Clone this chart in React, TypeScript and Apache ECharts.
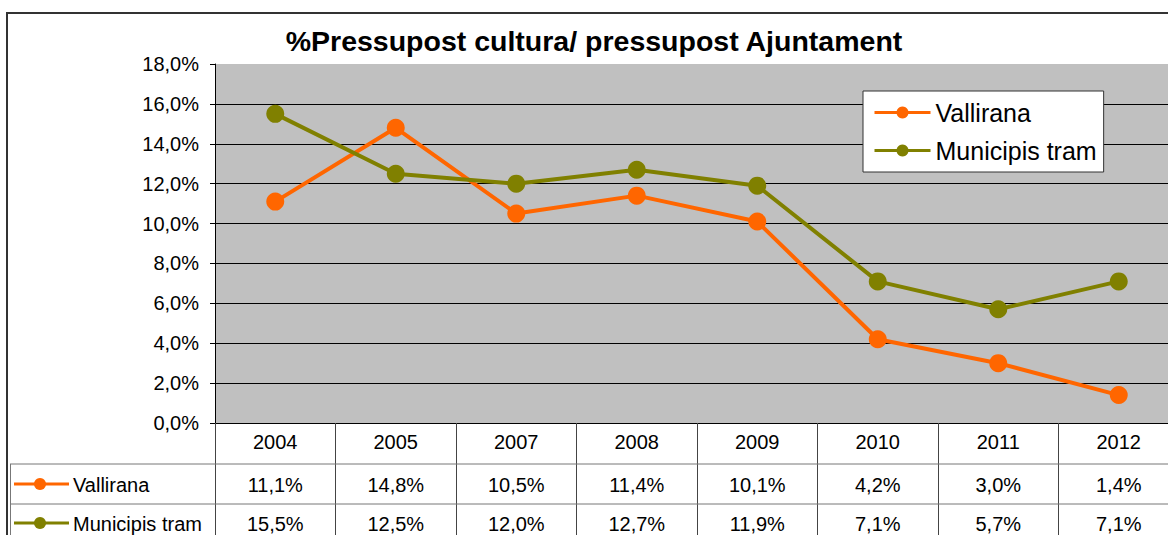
import React, { useEffect, useRef } from "react";
import * as echarts from "echarts";

const categories = ["2004", "2005", "2007", "2008", "2009", "2010", "2011", "2012"];
const seriesNames = ["Vallirana", "Municipis tram"];
const vallirana = [11.1, 14.8, 10.5, 11.4, 10.1, 4.2, 3.0, 1.4];
const municipis = [15.5, 12.5, 12.0, 12.7, 11.9, 7.1, 5.7, 7.1];
const seriesColors = ["#FF6600", "#808000"];
const titleText = "%Pressupost cultura/ pressupost Ajuntament";

const FONT = "'Liberation Sans', Arial, sans-serif";
const fmt = (v: number) => v.toFixed(1).replace(".", ",") + "%";

export default function App() {
  const ref = useRef<HTMLDivElement>(null);
  useEffect(() => {
    const chart = echarts.init(ref.current!, null, { renderer: "svg" });
    const splitColors = Array.from({ length: 10 }, (_, i) => (i === 9 ? "#C0C0C0" : "#000000"));
    chart.setOption({
      animation: false,
      title: {
        text: titleText,
        left: 589,
        textAlign: "center",
        top: 21,
        textStyle: { fontFamily: FONT, fontSize: 28.5, fontWeight: "bold", color: "#000" },
      },
      legend: {
        orient: "vertical",
        left: 863,
        top: 91,
        padding: [9, 7, 9, 10],
        itemGap: 13,
        itemWidth: 56,
        itemHeight: 15,
        backgroundColor: "#FFFFFF",
        borderColor: "#333333",
        borderWidth: 1,
        lineStyle: { width: 3 },
        textStyle: { fontFamily: FONT, fontSize: 25, color: "#000" },
        data: seriesNames,
      },
      grid: {
        left: 215,
        top: 64,
        width: 964,
        height: 359,
        show: true,
        backgroundColor: "#C0C0C0",
        borderWidth: 0,
        containLabel: false,
        outerBoundsMode: "none",
      },
      xAxis: {
        type: "category",
        data: categories,
        boundaryGap: true,
        axisLine: { show: true, lineStyle: { color: "#000", width: 1 } },
        axisTick: { show: true, inside: false, length: 115, interval: 0, lineStyle: { color: "#444", width: 1 } },
        axisLabel: { margin: 9, fontFamily: FONT, fontSize: 20, color: "#000", interval: 0 },
        splitLine: { show: false },
      },
      yAxis: {
        type: "value",
        min: 0,
        max: 18,
        interval: 2,
        axisLine: { show: true, lineStyle: { color: "#000", width: 1 } },
        axisTick: { show: true, length: 5, lineStyle: { color: "#000" } },
        axisLabel: { margin: 16, fontFamily: FONT, fontSize: 20, color: "#000", formatter: (v: number) => fmt(v) },
        splitLine: { show: true, lineStyle: { color: splitColors, width: 1 } },
      },
      series: [
        {
          name: seriesNames[0],
          type: "line",
          data: vallirana,
          symbol: "circle",
          symbolSize: 18,
          color: seriesColors[0],
          lineStyle: { width: 4, color: seriesColors[0] },
          itemStyle: { color: seriesColors[0] },
        },
        {
          name: seriesNames[1],
          type: "line",
          data: municipis,
          symbol: "circle",
          symbolSize: 18,
          color: seriesColors[1],
          lineStyle: { width: 4, color: seriesColors[1] },
          itemStyle: { color: seriesColors[1] },
        },
      ],
    });

    const rows = [vallirana, municipis];
    const rowY = [485, 524];
    const graphic: any[] = [
      {
        type: "rect",
        shape: { x: 7, y: 13, width: 1300, height: 700 },
        style: { fill: "none", stroke: "#333", lineWidth: 2 },
        silent: true,
        z: 100,
      },
      { type: "line", shape: { x1: 10, y1: 464, x2: 1200, y2: 464 }, style: { stroke: "#777", lineWidth: 1 }, z: 100 },
      { type: "line", shape: { x1: 10, y1: 504, x2: 1200, y2: 504 }, style: { stroke: "#777", lineWidth: 1 }, z: 100 },
      { type: "line", shape: { x1: 10.5, y1: 464, x2: 10.5, y2: 540 }, style: { stroke: "#777", lineWidth: 1 }, z: 100 },
    ];
    rows.forEach((vals, r) => {
      const y = rowY[r];
      graphic.push({
        type: "line",
        shape: { x1: 14, y1: y - 1, x2: 69, y2: y - 1 },
        style: { stroke: seriesColors[r], lineWidth: 3 },
        z: 100,
      });
      graphic.push({
        type: "circle",
        shape: { cx: 40, cy: y - 1, r: 6 },
        style: { fill: seriesColors[r] },
        z: 100,
      });
      graphic.push({
        type: "text",
        x: 73,
        y,
        style: { text: seriesNames[r], font: `20px ${FONT}`, fill: "#000", textAlign: "left", textVerticalAlign: "middle" },
        z: 100,
      });
      vals.forEach((v, i) => {
        const x = chart.convertToPixel({ xAxisIndex: 0 }, categories[i]) as number;
        graphic.push({
          type: "text",
          x,
          y,
          style: { text: fmt(v), font: `20px ${FONT}`, fill: "#000", textAlign: "center", textVerticalAlign: "middle" },
          z: 100,
        });
      });
    });
    chart.setOption({ graphic });

    return () => chart.dispose();
  }, []);
  return (
    <div
      ref={ref}
      style={{ position: "absolute", left: 0, top: 0, width: 1168, height: 535, background: "#fff" }}
    />
  );
}
